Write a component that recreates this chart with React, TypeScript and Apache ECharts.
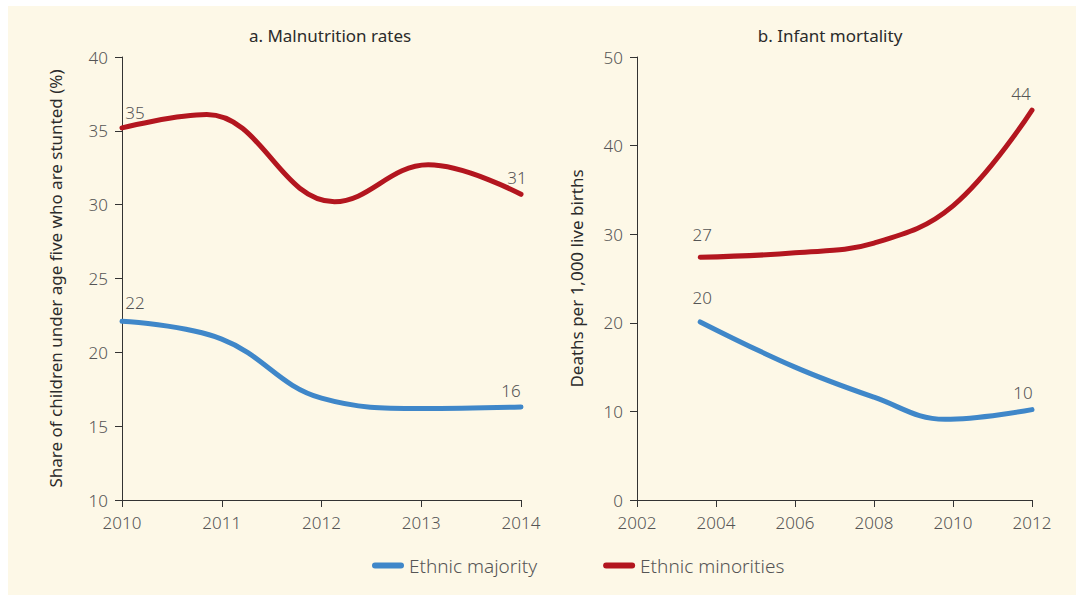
import React, { useEffect, useRef } from "react";
import * as echarts from "echarts";

const seriesNames = ["Ethnic majority", "Ethnic minorities"];
const titleA = "a. Malnutrition rates";
const titleB = "b. Infant mortality";
const yNameA = "Share of children under age five who are stunted (%)";
const yNameB = "Deaths per 1,000 live births";

// Panel a: malnutrition (year, %)
const malMajority: [number, number][] = [
  [2010, 22.1], [2011, 20.9], [2012, 16.9], [2013, 16.2], [2014, 16.3],
];
const malMinorities: [number, number][] = [
  [2010, 35.2], [2010.85, 36.1], [2012.13, 30.2], [2013.07, 32.7], [2014, 30.7],
];
// Panel b: infant mortality (year, deaths per 1,000)
const imrMajority: [number, number][] = [
  [2003.6, 20.1], [2006, 15.0], [2008, 11.6], [2009.8, 9.1], [2012, 10.2],
];
const imrMinorities: [number, number][] = [
  [2003.6, 27.4], [2006, 27.9], [2008, 29.0], [2010, 33.2], [2012, 44.0],
];

const BLUE = "#3f87c9";
const RED = "#b3161f";
const FONT = "'Noto Sans', sans-serif";

function withEndLabels(
  data: [number, number][],
  startOffset: [number, number],
  endOffset: [number, number]
) {
  return data.map((d, i) => {
    const isStart = i === 0;
    const isEnd = i === data.length - 1;
    if (!isStart && !isEnd) return { value: d };
    return {
      value: d,
      label: {
        show: true,
        position: "top",
        distance: 4,
        offset: isStart ? startOffset : endOffset,
        formatter: (p: any) => String(Math.round(p.value[1])),
        color: "#555",
        fontSize: 17,
        fontFamily: FONT,
        fontWeight: 300,
      },
    };
  });
}

export default function App() {
  const ref = useRef<HTMLDivElement>(null);
  useEffect(() => {
    if (!ref.current) return;
    const chart = echarts.init(ref.current, undefined, { renderer: "svg" });
    const axisCommon = {
      axisLine: { show: true, lineStyle: { color: "#333", width: 1 } },
      axisTick: { show: true, inside: false, length: 7, lineStyle: { color: "#333", width: 1 } },
      splitLine: { show: false },
      axisLabel: { color: "#555", fontSize: 17, fontFamily: FONT, fontWeight: 300, margin: 14 },
    };
    const lineCommon = {
      type: "line",
      smooth: 0.4,
      showSymbol: true,
      symbol: "circle",
      symbolSize: 0.1,
      lineStyle: { width: 5, cap: "round" },
      emphasis: { disabled: true },
      label: { show: false },
    };
    chart.setOption({
      animation: false,
      backgroundColor: "#ffffff",
      graphic: [
        { type: "rect", shape: { x: 8, y: 6, width: 1068, height: 589 }, style: { fill: "#fdf8e7" }, z: -10 },
        { type: "text", x: 330, y: 35, style: { text: titleA, align: "center", verticalAlign: "middle", fill: "#2b2b2b", fontSize: 17, fontFamily: FONT, fontWeight: "normal" } },
        { type: "text", x: 830, y: 35, style: { text: titleB, align: "center", verticalAlign: "middle", fill: "#2b2b2b", fontSize: 17, fontFamily: FONT, fontWeight: "normal" } },
      ],
      legend: {
        left: 372,
        top: 556,
        padding: 0,
        itemWidth: 32,
        itemHeight: 6,
        itemGap: 66,
        icon: "path://M3,0 L29,0 A3,3 0 0 1 29,6 L3,6 A3,3 0 0 1 3,0 Z",
        textStyle: { color: "#555", fontSize: 19, fontFamily: FONT, fontWeight: 300 },
        data: seriesNames,
      },
      grid: [
        { left: 122, top: 57, width: 399, height: 443 },
        { left: 637, top: 57, width: 395, height: 443 },
      ],
      xAxis: [
        { ...axisCommon, type: "value", gridIndex: 0, min: 2010, max: 2014, interval: 1, axisLabel: { ...axisCommon.axisLabel, formatter: (v: number) => String(v) } },
        { ...axisCommon, type: "value", gridIndex: 1, min: 2002, max: 2012, interval: 2, axisLabel: { ...axisCommon.axisLabel, formatter: (v: number) => String(v) } },
      ],
      yAxis: [
        { ...axisCommon, type: "value", gridIndex: 0, min: 10, max: 40, interval: 5, name: yNameA, nameLocation: "middle", nameRotate: 90, nameGap: 58, nameTextStyle: { color: "#2b2b2b", fontSize: 17, fontFamily: FONT } },
        { ...axisCommon, type: "value", gridIndex: 1, min: 0, max: 50, interval: 10, name: yNameB, nameLocation: "middle", nameRotate: 90, nameGap: 52, nameTextStyle: { color: "#2b2b2b", fontSize: 17, fontFamily: FONT } },
      ],
      series: [
        { ...lineCommon, name: seriesNames[0], xAxisIndex: 0, yAxisIndex: 0, color: BLUE, data: withEndLabels(malMajority, [13, -6], [-10, -4]) },
        { ...lineCommon, name: seriesNames[1], xAxisIndex: 0, yAxisIndex: 0, color: RED, data: withEndLabels(malMinorities, [13, -3], [-4, -4]) },
        { ...lineCommon, name: seriesNames[0], xAxisIndex: 1, yAxisIndex: 1, color: BLUE, data: withEndLabels(imrMajority, [2, -12], [-9, -5]) },
        { ...lineCommon, name: seriesNames[1], xAxisIndex: 1, yAxisIndex: 1, color: RED, data: withEndLabels(imrMinorities, [2, -10], [-11, -4]) },
      ],
    });
    return () => chart.dispose();
  }, []);
  return <div ref={ref} style={{ position: "absolute", left: 0, top: 0, width: 1076, height: 595 }} />;
}
